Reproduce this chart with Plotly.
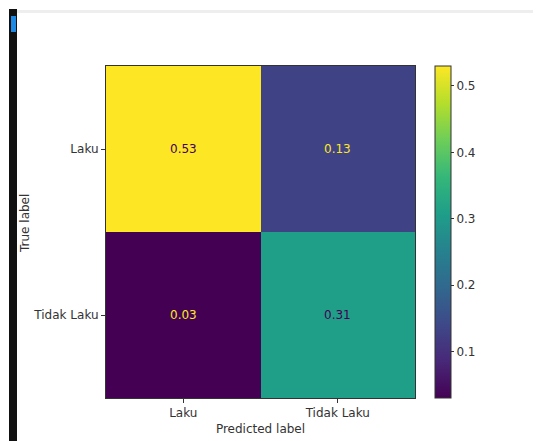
import plotly.graph_objects as go

categories = ["Laku", "Tidak Laku"]
true_labels = ["Laku", "Tidak Laku"]
values = [[0.53, 0.13],
          [0.03, 0.31]]
cbar_ticks = [0.1, 0.2, 0.3, 0.4, 0.5]

zmin = min(min(r) for r in values)
zmax = max(max(r) for r in values)
thresh = (zmin + zmax) / 2
FONT = "DejaVu Sans"
FS = 12

# page body has an 8px margin; work in figure coords = screen - 8
OFF = 8
W, H = 541 - OFF, 441 - OFF
l, t = 106 - OFF, 66 - OFF
r = W - (415 - OFF)
b = H - (398 - OFF)
pw, ph = W - l - r, H - t - b

def px(xs):
    return (xs - OFF - l) / pw

def py(ys):
    return 1 - (ys - OFF - t) / ph

fig = go.Figure(go.Heatmap(
    z=values, x=categories, y=true_labels,
    colorscale="Viridis", zmin=zmin, zmax=zmax,
    showscale=True,
    colorbar=dict(
        x=1.065, xanchor="left", xref="paper",
        y=0, yanchor="bottom", len=1, lenmode="fraction", ypad=0, xpad=0,
        thickness=16, outlinecolor="#333", outlinewidth=1,
        tickvals=cbar_ticks, ticks="outside", ticklen=3,
        tickcolor="#333",
        tickfont=dict(family=FONT, size=FS, color="#333"),
    ),
    hoverinfo="skip",
))

for i, row in enumerate(values):
    for j, v in enumerate(row):
        fig.add_annotation(
            x=categories[j], y=true_labels[i], text=f"{v:.2f}",
            showarrow=False,
            font=dict(family=FONT, size=FS,
                      color="#440154" if v >= thresh else "#fde725"),
        )

# y-axis title (slightly above centre, as in the reference)
fig.add_annotation(
    xref="paper", yref="paper", x=px(25), y=py(224), text="True label",
    textangle=-90, showarrow=False, xanchor="center", yanchor="middle",
    font=dict(family=FONT, size=FS, color="#333"),
)

fig.update_xaxes(
    title=dict(text="Predicted label", font=dict(family=FONT, size=FS, color="#333"), standoff=5),
    automargin=False,
    showline=True, linecolor="#333", mirror=True, ticks="outside", ticklen=4,
    tickcolor="#333", tickfont=dict(family=FONT, size=FS, color="#333"),
    showgrid=False, zeroline=False,
)
fig.update_yaxes(
    automargin=False,
    autorange="reversed",
    showline=True, linecolor="#333", mirror=True, ticks="outside", ticklen=4,
    tickcolor="#333", tickfont=dict(family=FONT, size=FS, color="#333"),
    showgrid=False, zeroline=False,
)

shapes = [
    dict(type="rect", xref="paper", yref="paper", x0=px(17), x1=px(541), y0=py(13), y1=py(10),
         fillcolor="#eeeeee", line=dict(width=0), layer="below"),
    dict(type="rect", xref="paper", yref="paper", x0=px(9), x1=px(17), y0=py(441), y1=py(9),
         fillcolor="#111111", line=dict(width=0), layer="below"),
    dict(type="rect", xref="paper", yref="paper", x0=px(11), x1=px(16), y0=py(32), y1=py(16),
         fillcolor="#1e88e5", line=dict(width=0), layer="below"),
]

fig.update_layout(
    width=W, height=H,
    margin=dict(l=l, r=r, t=t, b=b, autoexpand=False),
    paper_bgcolor="white", plot_bgcolor="white",
    shapes=shapes,
    showlegend=False,
)

fig.write_html("out.html")
